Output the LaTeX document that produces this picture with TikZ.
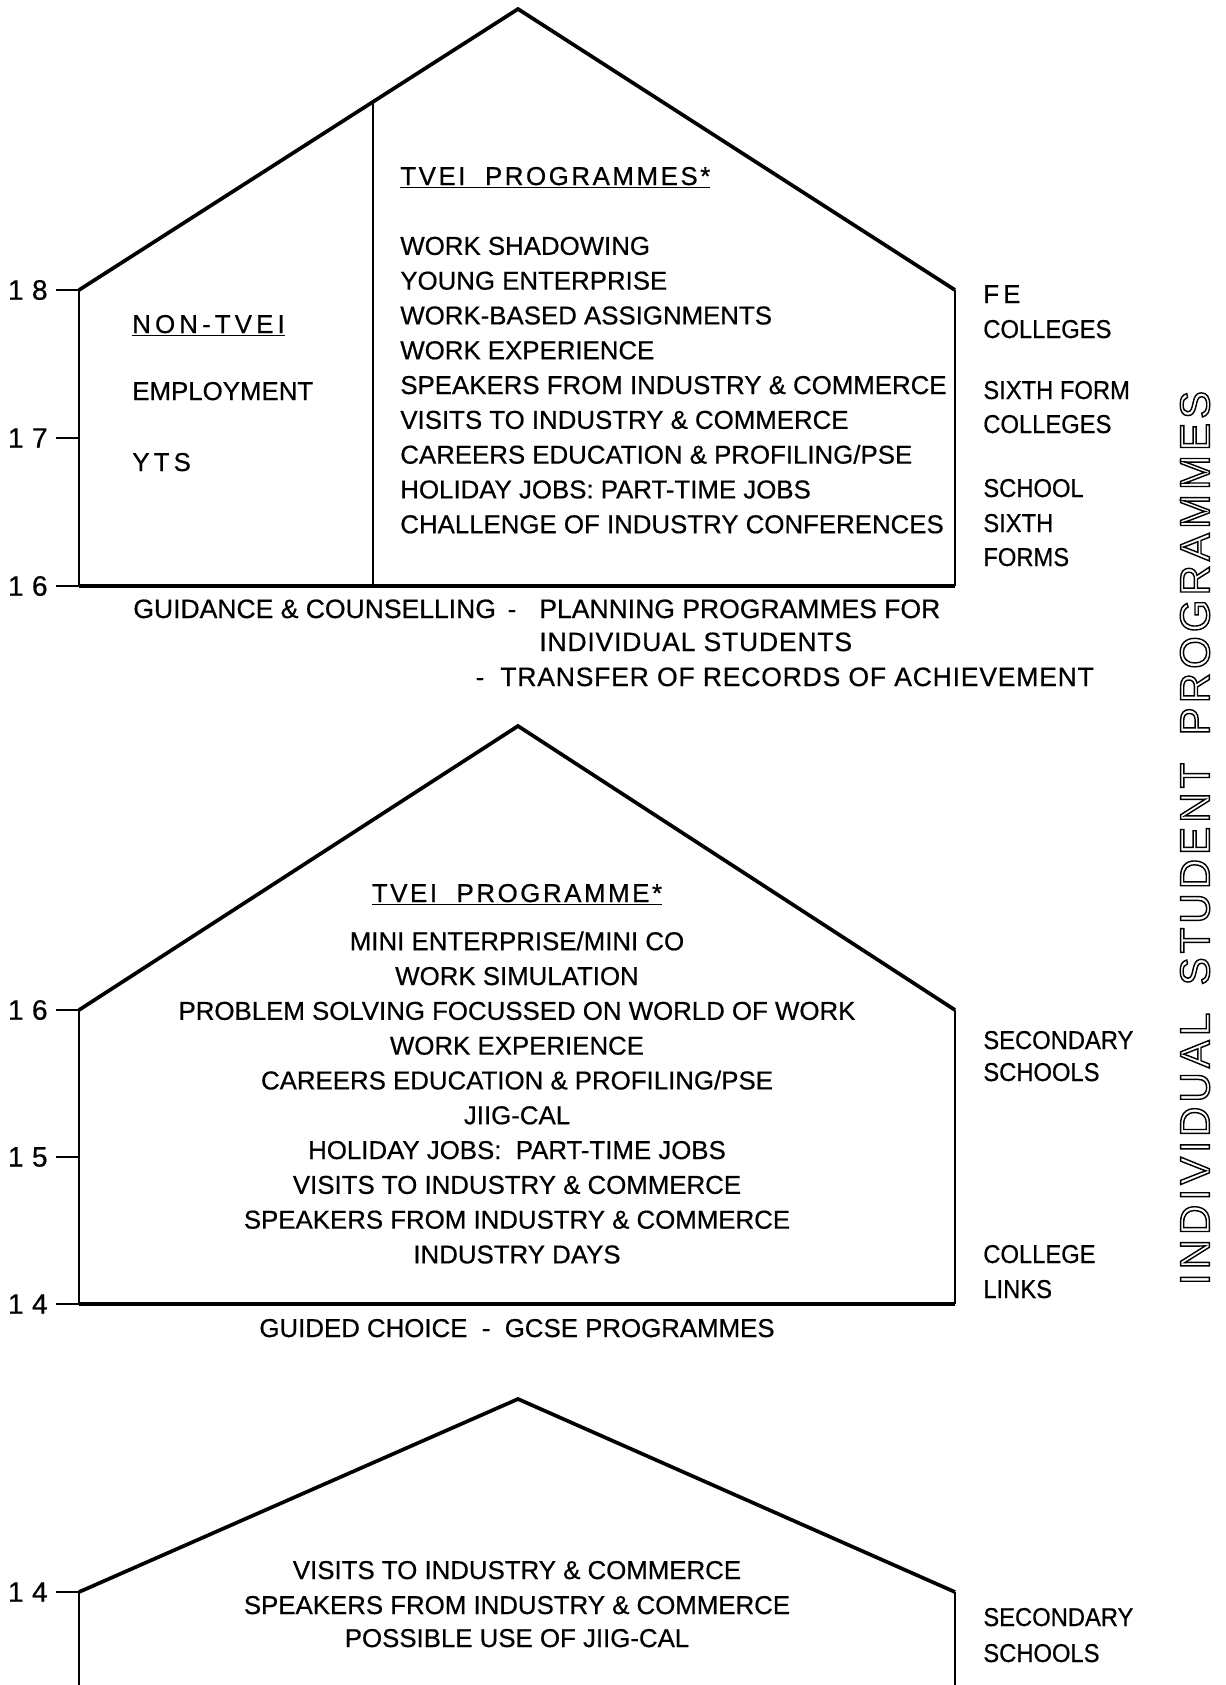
\documentclass[tikz,border=0pt]{standalone}
\usepackage{fontspec}
\setmainfont[FakeBold=0.6]{Liberation Sans}
\newfontfamily\spacedfam[LetterSpace=16, FakeBold=0.6]{Liberation Sans}
\newfontfamily\agefam[LetterSpace=30, FakeBold=0.6]{Liberation Sans}
\newfontfamily\headfam[LetterSpace=10, FakeBold=0.8]{Liberation Sans}
\newfontfamily\narrowfam[FakeStretch=0.92, FakeBold=0.6]{Liberation Sans}
\newfontfamily\widefam[LetterSpace=3, FakeBold=0.6]{Liberation Sans}
\newfontfamily\bannerfam[LetterSpace=10]{Liberation Sans}
\newcommand{\itemfont}{\fontsize{14.7}{17}\selectfont}
\newcommand{\spacedfont}{\spacedfam\fontsize{14.7}{17}\selectfont}
\newcommand{\agefont}{\agefam\fontsize{16}{18}\selectfont}
\newcommand{\headfont}{\headfam\fontsize{14.7}{17}\selectfont}
\newcommand{\narrowfont}{\narrowfam\fontsize{14.7}{17}\selectfont}
\newcommand{\notefont}{\fontsize{15.1}{17}\selectfont}
\newcommand{\widenotefont}{\widefam\fontsize{15.1}{17}\selectfont}
\newcommand{\bannerfont}{\bannerfam\fontsize{23.8}{26}\selectfont}
\newcommand{\hollow}[1]{\special{pdf:literal direct 1 Tr 0.8 w}#1\special{pdf:literal direct 0 Tr}}
\tikzset{
    roof/.style={line width=2.1pt},
    wall/.style={line width=1.4pt},
    floorline/.style={line width=1.8pt},
    divider/.style={line width=1.1pt},
    tickmark/.style={line width=1.3pt},
    ageno/.style={font=\agefont, inner sep=0pt, anchor=east},
    item/.style={font=\itemfont, inner sep=0pt, anchor=base west},
    citem/.style={font=\itemfont, inner sep=0pt, anchor=base},
    spaced/.style={font=\spacedfont, inner sep=0pt, anchor=base west},
    head/.style={font=\headfont, inner sep=0pt, anchor=base west},
    side/.style={font=\narrowfont, inner sep=0pt, anchor=base west},
    note/.style={font=\notefont, inner sep=0pt, anchor=base west},
    widenote/.style={font=\widenotefont, inner sep=0pt, anchor=base west},
    banner/.style={font=\bannerfont, inner sep=0pt, rotate=90}
}
\begin{document}
\begin{tikzpicture}[x=0.02cm, y=-0.02cm]
\useasboundingbox (0,0) rectangle (1225,1685);

% side title (set first, before any emboldened text)
\node[banner] (title) at (1195,838) {\hollow{INDIVIDUAL\hspace{0.55cm}STUDENT\hspace{0.55cm}PROGRAMMES}};

% house 16-18
\coordinate (top1) at (518,9);
\coordinate (eaveL1) at (79,290);
\coordinate (eaveR1) at (955,290);
\coordinate (baseL1) at (79,586);
\coordinate (baseR1) at (955,586);
\coordinate (divT1) at (373,102);
\coordinate (divB1) at (373,586);
\draw[roof] (eaveL1) -- (top1) -- (eaveR1);
\draw[wall] (eaveL1) -- (baseL1) (eaveR1) -- (baseR1);
\draw[floorline] (baseL1) -- (baseR1);
\draw[divider] (divT1) -- (divB1);

\node[ageno] (a18) at (48,290) {18};
\node[ageno] (a17) at (48,438) {17};
\node[ageno] (a16) at (48,586) {16};
\coordinate (w17) at (79,438);
\draw[tickmark] (a18.east) ++(8,0) -- (eaveL1);
\draw[tickmark] (a17.east) ++(8,0) -- (w17);
\draw[tickmark] (a16.east) ++(8,0) -- (baseL1);

\node[spaced] (nontvei) at (132,333) {\underline{NON-TVEI}};
\node[item] (employ) at (132,400) {EMPLOYMENT};
\node[spaced] (yts) at (132,471) {YTS};

\node[head] (tvei1) at (400,185) {\underline{TVEI\ \ PROGRAMMES*}};
\node[item] (p1) at (400,254.8) {WORK SHADOWING};
\node[item] (p2) at (400,289.6) {YOUNG ENTERPRISE};
\node[item] (p3) at (400,324.4) {WORK-BASED ASSIGNMENTS};
\node[item] (p4) at (400,359.2) {WORK EXPERIENCE};
\node[item] (p5) at (400,394.0) {SPEAKERS FROM INDUSTRY \& COMMERCE};
\node[item] (p6) at (400,428.8) {VISITS TO INDUSTRY \& COMMERCE};
\node[item] (p7) at (400,463.6) {CAREERS EDUCATION \& PROFILING/PSE};
\node[item] (p8) at (400,498.4) {HOLIDAY JOBS: PART-TIME JOBS};
\node[item] (p9) at (400,533.2) {CHALLENGE OF INDUSTRY CONFERENCES};

\node[spaced] (fe) at (983,303) {FE};
\node[side] (fecoll) at (983,338) {COLLEGES};
\node[side] (sixth) at (983,399) {SIXTH FORM};
\node[side] (sixcoll) at (983,433) {COLLEGES};
\node[side] (school) at (983,497) {SCHOOL};
\node[side] (schsix) at (983,532) {SIXTH};
\node[side] (forms) at (983,566) {FORMS};

\node[note] (guide) at (133,618) {GUIDANCE \& COUNSELLING};
\node[citem] (dash1) at (512,618) {-};
\node[note] (plan) at (539,618) {PLANNING PROGRAMMES FOR};
\node[widenote] (indiv) at (539,651) {INDIVIDUAL STUDENTS};
\node[citem] (dash2) at (480,686) {-};
\node[widenote] (transfer) at (500,686) {TRANSFER OF RECORDS OF ACHIEVEMENT};

% house 14-16
\coordinate (top2) at (518,726);
\coordinate (eaveL2) at (79,1010);
\coordinate (eaveR2) at (955,1010);
\coordinate (baseL2) at (79,1304);
\coordinate (baseR2) at (955,1304);
\draw[roof] (eaveL2) -- (top2) -- (eaveR2);
\draw[wall] (eaveL2) -- (baseL2) (eaveR2) -- (baseR2);
\draw[floorline] (baseL2) -- (baseR2);

\node[ageno] (b16) at (48,1010) {16};
\node[ageno] (b15) at (48,1157) {15};
\node[ageno] (b14) at (48,1304) {14};
\coordinate (w15) at (79,1157);
\draw[tickmark] (b16.east) ++(8,0) -- (eaveL2);
\draw[tickmark] (b15.east) ++(8,0) -- (w15);
\draw[tickmark] (b14.east) ++(8,0) -- (baseL2);

\node[head, anchor=base] (tvei2) at (517,902) {\underline{TVEI\ \ PROGRAMME*}};
\node[citem] (q1) at (517,950.2) {MINI ENTERPRISE/MINI CO};
\node[citem] (q2) at (517,985.0) {WORK SIMULATION};
\node[citem] (q3) at (517,1019.8) {PROBLEM SOLVING FOCUSSED ON WORLD OF WORK};
\node[citem] (q4) at (517,1054.6) {WORK EXPERIENCE};
\node[citem] (q5) at (517,1089.4) {CAREERS EDUCATION \& PROFILING/PSE};
\node[citem] (q6) at (517,1124.2) {JIIG-CAL};
\node[citem] (q7) at (517,1159.0) {HOLIDAY JOBS:\ \ PART-TIME JOBS};
\node[citem] (q8) at (517,1193.8) {VISITS TO INDUSTRY \& COMMERCE};
\node[citem] (q9) at (517,1228.6) {SPEAKERS FROM INDUSTRY \& COMMERCE};
\node[citem] (q10) at (517,1263.4) {INDUSTRY DAYS};

\node[side] (second2) at (983,1049) {SECONDARY};
\node[side] (schools2) at (983,1081) {SCHOOLS};
\node[side] (college) at (983,1263) {COLLEGE};
\node[side] (links) at (983,1298) {LINKS};

\node[citem] (guided) at (517,1337) {GUIDED CHOICE\ \ -\ \ GCSE PROGRAMMES};

% house up to 14
\coordinate (top3) at (518,1399);
\coordinate (eaveL3) at (79,1592);
\coordinate (eaveR3) at (955,1592);
\coordinate (baseL3) at (79,1685);
\coordinate (baseR3) at (955,1685);
\draw[roof] (eaveL3) -- (top3) -- (eaveR3);
\draw[wall] (eaveL3) -- (baseL3) (eaveR3) -- (baseR3);

\node[ageno] (c14) at (48,1592) {14};
\draw[tickmark] (c14.east) ++(8,0) -- (eaveL3);

\node[citem] (r1) at (517,1579) {VISITS TO INDUSTRY \& COMMERCE};
\node[citem] (r2) at (517,1614) {SPEAKERS FROM INDUSTRY \& COMMERCE};
\node[citem] (r3) at (517,1647) {POSSIBLE USE OF JIIG-CAL};

\node[side] (second3) at (983,1626) {SECONDARY};
\node[side] (schools3) at (983,1662) {SCHOOLS};
\end{tikzpicture}
\end{document}
